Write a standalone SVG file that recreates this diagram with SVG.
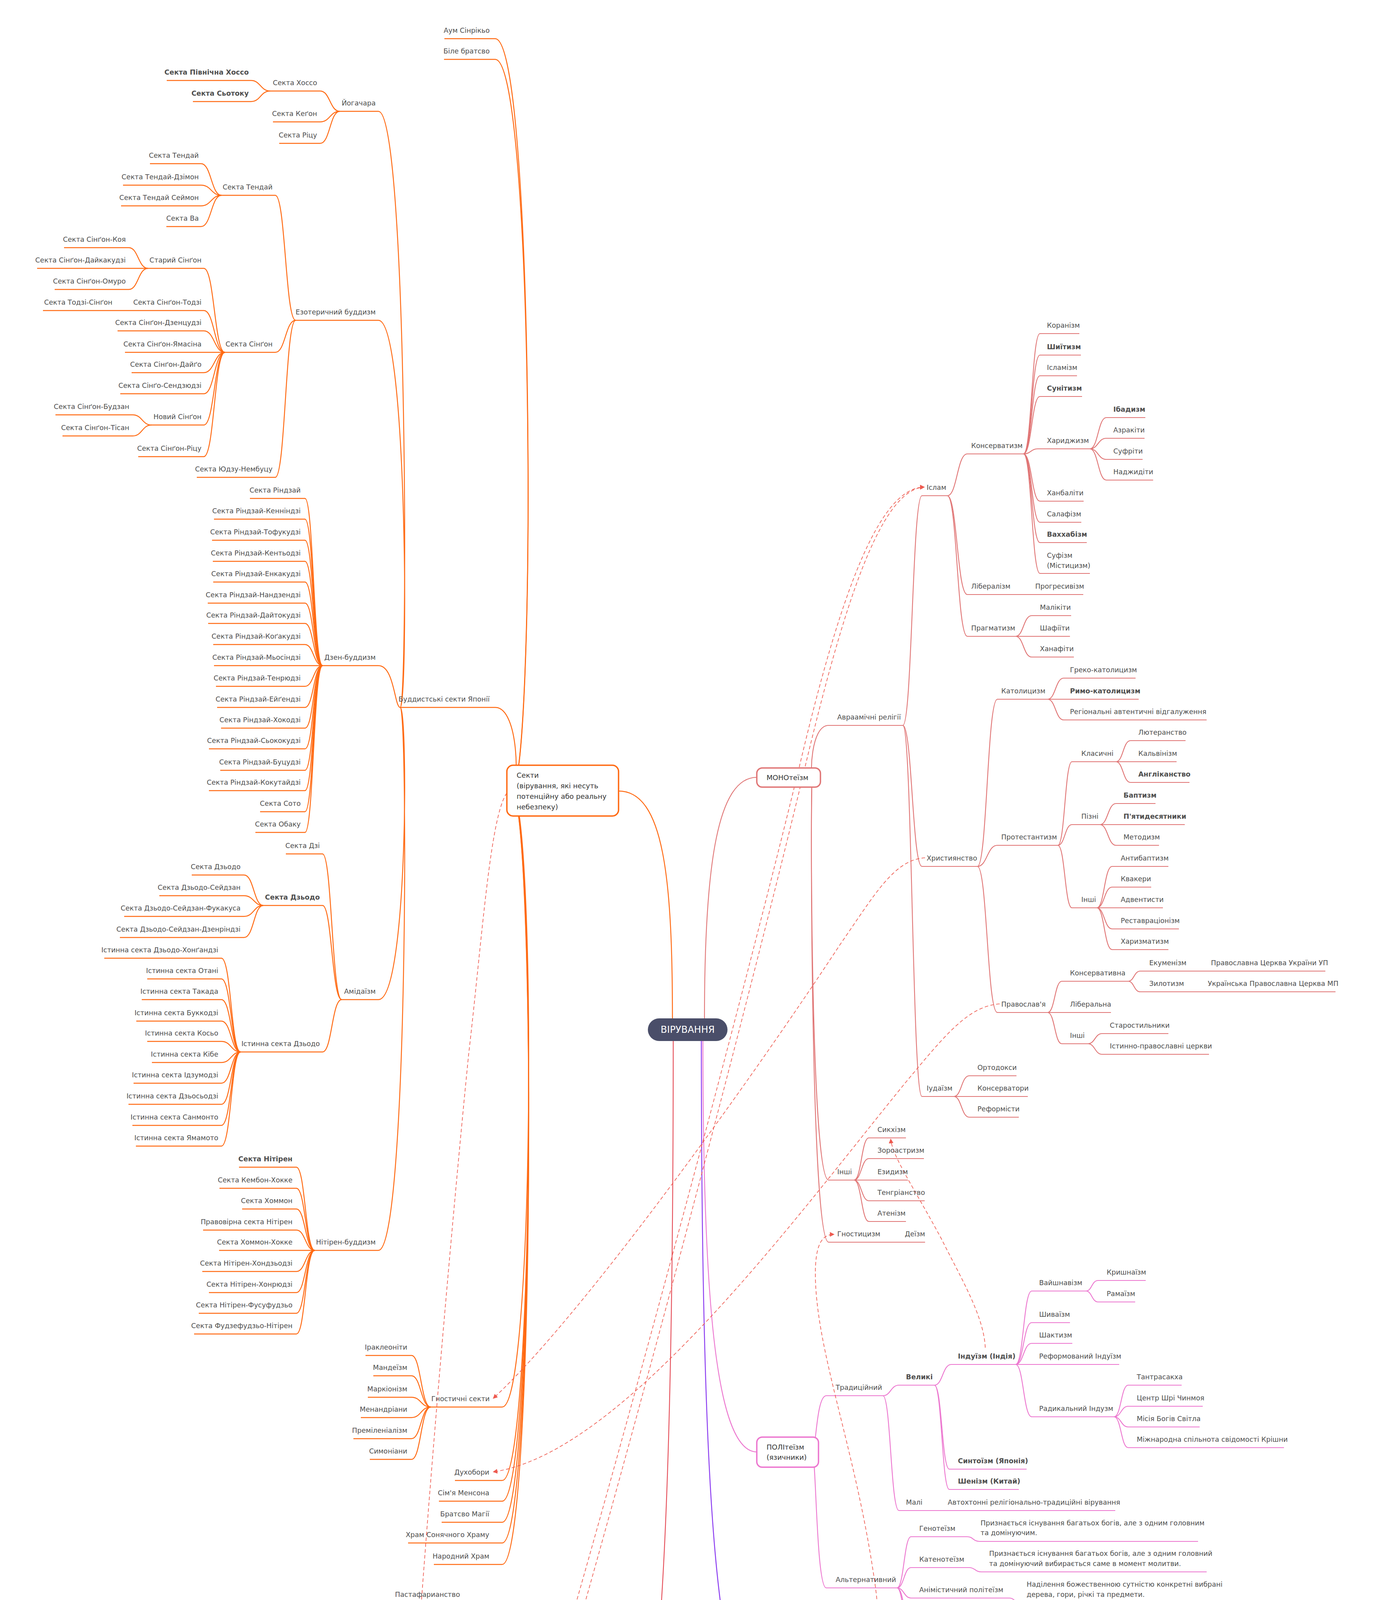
<svg xmlns="http://www.w3.org/2000/svg" width="3516" height="5271" viewBox="0 0 3516 5271">
<style>
text{font-family:"DejaVu Sans","Noto Sans",sans-serif;font-size:17.6px;fill:#4d4d4d}
.l{text-anchor:end}
.b{font-weight:bold}
.bx{font-size:18px;fill:#333}
path{fill:none}
.co{stroke:#ff6a13;stroke-width:2.4}
.cm{stroke:#e07575;stroke-width:2.2}
.cp{stroke:#ec76cf;stroke-width:2.2}
.cv{stroke:#8b3cf0;stroke-width:2.4}
.cr{stroke:#e44a55;stroke-width:2.2}
.dl{stroke:#ee5a4f;stroke-width:1.7;stroke-dasharray:9 6;marker-end:url(#ar)}
.box{fill:#fff;stroke-width:3.5}
</style>
<defs>
<marker id="ar" viewBox="0 0 10 10" refX="9" refY="5" markerWidth="12" markerHeight="12" markerUnits="userSpaceOnUse" orient="auto-start-reverse"><path d="M0,0L10,5L0,10Z" style="fill:#ee5a4f;stroke:none"/></marker>
</defs>
<rect width="3516" height="5271" fill="#fff"/>
<g id="connectors">
<path class="co" stroke-width="5" d="M1722,2607C1722,2250 1700,2025 1584,2025"/>
<path class="cm" stroke-width="5" d="M1804,2607C1804,2200 1840,1990 1938,1990"/>
<path class="cp" stroke-width="5" d="M1800,2665C1800,3300 1830,3717 1938,3717"/>
<path class="cv" stroke-width="5" d="M1796,2665C1796,3600 1820,4363 1938,4363"/>
<path class="cr" stroke-width="5" d="M1724,2665C1724,3700 1700,4637 1584,4637"/>
<g class="co">
<path d="M1138,99H1268C1372,99 1372,2024 1310,2024"/>
<path d="M1137,152H1268C1372,152 1372,2024 1310,2024"/>
<path d="M1025,1811H1268C1330,1811 1330,2024 1310,2024"/>
<path d="M1103,3602H1286C1372,3602 1372,2024 1310,2024"/>
<path d="M1165,3790H1286C1372,3790 1372,2024 1310,2024"/>
<path d="M1124,3843H1286C1372,3843 1372,2024 1310,2024"/>
<path d="M1131,3897H1286C1372,3897 1372,2024 1310,2024"/>
<path d="M1045,3950H1286C1372,3950 1372,2024 1310,2024"/>
<path d="M1111,4005H1286C1372,4005 1372,2024 1310,2024"/>
<path d="M870,285H969C1045,285 1045,1811 1025,1811"/>
<path d="M757,820H969C1045,820 1045,1811 1025,1811"/>
<path d="M826,1704H969C1010,1704 1010,1811 1025,1811"/>
<path d="M875,2559H969C1045,2559 1045,1811 1025,1811"/>
<path d="M806,3201H969C1045,3201 1045,1811 1025,1811"/>
<path d="M692,233H820C845,233 845,285 870,285"/>
<path d="M699,312H820C845,312 845,285 870,285"/>
<path d="M715,367H820C845,367 845,285 870,285"/>
<path d="M427,206H643C667,206 667,233 692,233"/>
<path d="M494,260H643C667,260 667,233 692,233"/>
<path d="M567,500H705C731,500 731,820 757,820"/>
<path d="M576,902H705C731,902 731,820 757,820"/>
<path d="M504,1222H705C731,1222 731,820 757,820"/>
<path d="M384,419H515C541,419 541,500 567,500"/>
<path d="M315,474H515C541,474 541,500 567,500"/>
<path d="M310,527H515C541,527 541,500 567,500"/>
<path d="M426,580H515C541,580 541,500 567,500"/>
<path d="M379,687H522C549,687 549,902 576,902"/>
<path d="M110,795H522C549,795 549,902 576,902"/>
<path d="M301,847H522C549,847 549,902 576,902"/>
<path d="M320,902H576"/>
<path d="M337,954H522C549,954 549,902 576,902"/>
<path d="M308,1008H522C549,1008 549,902 576,902"/>
<path d="M388,1088H522C549,1088 549,902 576,902"/>
<path d="M354,1169H522C549,1169 549,902 576,902"/>
<path d="M164,634H330C354,634 354,687 379,687"/>
<path d="M95,687H379"/>
<path d="M140,741H330C354,741 354,687 379,687"/>
<path d="M142,1062H340C364,1062 364,1088 388,1088"/>
<path d="M160,1116H340C364,1116 364,1088 388,1088"/>
<path d="M640,1276H781C803,1276 803,1704 826,1704"/>
<path d="M548,1329H781C803,1329 803,1704 826,1704"/>
<path d="M543,1383H781C803,1383 803,1704 826,1704"/>
<path d="M545,1437H781C803,1437 803,1704 826,1704"/>
<path d="M546,1490H781C803,1490 803,1704 826,1704"/>
<path d="M532,1544H781C803,1544 803,1704 826,1704"/>
<path d="M533,1596H781C803,1596 803,1704 826,1704"/>
<path d="M546,1650H781C803,1650 803,1704 826,1704"/>
<path d="M548,1704H826"/>
<path d="M553,1757H781C803,1757 803,1704 826,1704"/>
<path d="M556,1811H781C803,1811 803,1704 826,1704"/>
<path d="M566,1864H781C803,1864 803,1704 826,1704"/>
<path d="M535,1917H781C803,1917 803,1704 826,1704"/>
<path d="M564,1972H781C803,1972 803,1704 826,1704"/>
<path d="M535,2024H781C803,2024 803,1704 826,1704"/>
<path d="M666,2078H781C803,2078 803,1704 826,1704"/>
<path d="M654,2131H781C803,2131 803,1704 826,1704"/>
<path d="M732,2186H826C850,2186 850,2559 875,2559"/>
<path d="M674,2318H826C850,2318 850,2559 875,2559"/>
<path d="M616,2693H826C850,2693 850,2559 875,2559"/>
<path d="M491,2240H625C650,2240 650,2318 674,2318"/>
<path d="M408,2293H625C650,2293 650,2318 674,2318"/>
<path d="M318,2346H625C650,2346 650,2318 674,2318"/>
<path d="M307,2400H625C650,2400 650,2318 674,2318"/>
<path d="M267,2453H567C592,2453 592,2693 616,2693"/>
<path d="M377,2506H567C592,2506 592,2693 616,2693"/>
<path d="M363,2559H567C592,2559 592,2693 616,2693"/>
<path d="M349,2614H567C592,2614 592,2693 616,2693"/>
<path d="M377,2666H567C592,2666 592,2693 616,2693"/>
<path d="M389,2720H567C592,2720 592,2693 616,2693"/>
<path d="M342,2773H567C592,2773 592,2693 616,2693"/>
<path d="M329,2827H567C592,2827 592,2693 616,2693"/>
<path d="M339,2881H567C592,2881 592,2693 616,2693"/>
<path d="M348,2934H567C592,2934 592,2693 616,2693"/>
<path d="M612,2988H759C782,2988 782,3201 806,3201"/>
<path d="M562,3042H759C782,3042 782,3201 806,3201"/>
<path d="M620,3095H759C782,3095 782,3201 806,3201"/>
<path d="M520,3149H759C782,3149 782,3201 806,3201"/>
<path d="M561,3201H806"/>
<path d="M518,3255H759C782,3255 782,3201 806,3201"/>
<path d="M535,3309H759C782,3309 782,3201 806,3201"/>
<path d="M509,3362H759C782,3362 782,3201 806,3201"/>
<path d="M497,3415H759C782,3415 782,3201 806,3201"/>
<path d="M936,3470H1054C1078,3470 1078,3602 1103,3602"/>
<path d="M956,3522H1054C1078,3522 1078,3602 1103,3602"/>
<path d="M942,3577H1054C1078,3577 1078,3602 1103,3602"/>
<path d="M924,3629H1054C1078,3629 1078,3602 1103,3602"/>
<path d="M905,3683H1054C1078,3683 1078,3602 1103,3602"/>
<path d="M947,3736H1054C1078,3736 1078,3602 1103,3602"/>
</g>
<g class="cr">
<path d="M1237,4210H1359C1405,4210 1405,4637 1410,4637"/>
<path d="M1240,4585H1366C1405,4585 1405,4637 1410,4637"/>
<path d="M1237,5039H1359C1405,5039 1405,4637 1410,4637"/>
<path d="M1016,4103H1195C1216,4103 1216,4210 1237,4210"/>
<path d="M844,4156H1195C1216,4156 1216,4210 1237,4210"/>
<path d="M981,4210H1237"/>
<path d="M1098,4263H1195C1216,4263 1216,4210 1237,4210"/>
<path d="M1046,4316H1195C1216,4316 1216,4210 1237,4210"/>
<path d="M1088,4370H1195C1218,4370 1218,4585 1240,4585"/>
<path d="M847,4424H1195C1218,4424 1218,4585 1240,4585"/>
<path d="M1002,4478H1195C1218,4478 1218,4585 1240,4585"/>
<path d="M969,4531H1195C1218,4531 1218,4585 1240,4585"/>
<path d="M1096,4585H1240"/>
<path d="M1002,4638H1195C1218,4638 1218,4585 1240,4585"/>
<path d="M974,4691H1195C1218,4691 1218,4585 1240,4585"/>
<path d="M1073,4745H1195C1218,4745 1218,4585 1240,4585"/>
<path d="M799,4798H1195C1218,4798 1218,4585 1240,4585"/>
<path d="M1065,4852H1195C1216,4852 1216,5039 1237,5039"/>
<path d="M1056,4905H1195C1216,4905 1216,5039 1237,5039"/>
<path d="M1049,4959H1195C1216,4959 1216,5039 1237,5039"/>
<path d="M1105,5012H1195C1216,5012 1216,5039 1237,5039"/>
<path d="M1040,5065H1195C1216,5065 1216,5039 1237,5039"/>
<path d="M1103,5119H1195C1216,5119 1216,5039 1237,5039"/>
<path d="M1042,5172H1195C1216,5172 1216,5039 1237,5039"/>
<path d="M1059,5225H1195C1216,5225 1216,5039 1237,5039"/>
</g>
<g class="cm">
<path d="M2312,1857H2122C2075,1857 2075,1990 2080,1990"/>
<path d="M2187,3021H2122C2075,3021 2075,1990 2080,1990"/>
<path d="M2369,3180H2122C2075,3180 2075,1990 2080,1990"/>
<path d="M2426,1269H2361C2336,1269 2336,1857 2312,1857"/>
<path d="M2503,2218H2361C2336,2218 2336,1857 2312,1857"/>
<path d="M2443,2807H2361C2336,2807 2336,1857 2312,1857"/>
<path d="M2621,1162H2477C2451,1162 2451,1269 2426,1269"/>
<path d="M2774,1522H2477C2451,1522 2451,1269 2426,1269"/>
<path d="M2601,1629H2477C2451,1629 2451,1269 2426,1269"/>
<path d="M2764,854H2663C2642,854 2642,1162 2621,1162"/>
<path d="M2768,909H2663C2642,909 2642,1162 2621,1162"/>
<path d="M2758,962H2663C2642,962 2642,1162 2621,1162"/>
<path d="M2771,1015H2663C2642,1015 2642,1162 2621,1162"/>
<path d="M2791,1149H2657C2640,1149 2640,1162 2621,1162"/>
<path d="M2775,1283H2663C2642,1283 2642,1162 2621,1162"/>
<path d="M2769,1337H2663C2642,1337 2642,1162 2621,1162"/>
<path d="M2783,1389H2663C2642,1389 2642,1162 2621,1162"/>
<path d="M2791,1468H2663C2642,1468 2642,1162 2621,1162"/>
<path d="M2933,1069H2833C2812,1069 2812,1149 2791,1149"/>
<path d="M2931,1122H2833C2812,1122 2812,1149 2791,1149"/>
<path d="M2926,1176H2833C2812,1176 2812,1149 2791,1149"/>
<path d="M2953,1229H2833C2812,1229 2812,1149 2791,1149"/>
<path d="M2743,1576H2642C2621,1576 2621,1629 2601,1629"/>
<path d="M2740,1629H2601"/>
<path d="M2750,1682H2642C2621,1682 2621,1629 2601,1629"/>
<path d="M2683,1790H2554C2528,1790 2528,2218 2503,2218"/>
<path d="M2709,2164H2554C2528,2164 2528,2218 2503,2218"/>
<path d="M2683,2592H2554C2528,2592 2528,2218 2503,2218"/>
<path d="M2908,1736H2724C2703,1736 2703,1790 2683,1790"/>
<path d="M2916,1790H2683"/>
<path d="M3090,1843H2724C2703,1843 2703,1790 2683,1790"/>
<path d="M2858,1950H2745C2727,1950 2727,2164 2709,2164"/>
<path d="M2817,2111H2745C2727,2111 2727,2164 2709,2164"/>
<path d="M2809,2324H2745C2727,2324 2727,2164 2709,2164"/>
<path d="M3036,1896H2895C2876,1896 2876,1950 2858,1950"/>
<path d="M3013,1950H2858"/>
<path d="M3046,2003H2895C2876,2003 2876,1950 2858,1950"/>
<path d="M2959,2057H2858C2837,2057 2837,2111 2817,2111"/>
<path d="M3034,2111H2817"/>
<path d="M2968,2164H2858C2837,2164 2837,2111 2817,2111"/>
<path d="M2992,2218H2848C2828,2218 2828,2324 2809,2324"/>
<path d="M2948,2271H2848C2828,2271 2828,2324 2809,2324"/>
<path d="M2978,2324H2809"/>
<path d="M3019,2378H2848C2828,2378 2828,2324 2809,2324"/>
<path d="M2992,2431H2848C2828,2431 2828,2324 2809,2324"/>
<path d="M2889,2512H2719C2701,2512 2701,2592 2683,2592"/>
<path d="M2845,2592H2683"/>
<path d="M2786,2672H2719C2701,2672 2701,2592 2683,2592"/>
<path d="M3394,2486H2920C2904,2486 2904,2512 2889,2512"/>
<path d="M3420,2539H2920C2904,2539 2904,2512 2889,2512"/>
<path d="M2992,2646H2822C2804,2646 2804,2672 2786,2672"/>
<path d="M3096,2699H2822C2804,2699 2804,2672 2786,2672"/>
<path d="M2603,2754H2482C2462,2754 2462,2807 2443,2807"/>
<path d="M2632,2807H2443"/>
<path d="M2609,2860H2482C2462,2860 2462,2807 2443,2807"/>
<path d="M2320,2913H2225C2206,2913 2206,3021 2187,3021"/>
<path d="M2366,2966H2225C2206,2966 2206,3021 2187,3021"/>
<path d="M2325,3021H2187"/>
<path d="M2368,3074H2225C2206,3074 2206,3021 2187,3021"/>
<path d="M2320,3127H2225C2206,3127 2206,3021 2187,3021"/>
</g>
<g class="cp">
<path d="M2261,3573H2116C2090,3573 2090,3717 2080,3717"/>
<path d="M2297,4065H2116C2090,4065 2090,3717 2080,3717"/>
<path d="M2393,3546H2302C2281,3546 2281,3573 2261,3573"/>
<path d="M2856,3867H2302C2281,3867 2281,3573 2261,3573"/>
<path d="M2601,3493H2436C2414,3493 2414,3546 2393,3546"/>
<path d="M2629,3761H2431C2412,3761 2412,3546 2393,3546"/>
<path d="M2609,3813H2431C2412,3813 2412,3546 2393,3546"/>
<path d="M2781,3305H2642C2621,3305 2621,3493 2601,3493"/>
<path d="M2740,3386H2642C2621,3386 2621,3493 2601,3493"/>
<path d="M2746,3439H2642C2621,3439 2621,3493 2601,3493"/>
<path d="M2866,3493H2601"/>
<path d="M2853,3627H2642C2621,3627 2621,3493 2601,3493"/>
<path d="M2934,3278H2812C2796,3278 2796,3305 2781,3305"/>
<path d="M2907,3333H2812C2796,3333 2796,3305 2781,3305"/>
<path d="M3026,3546H2889C2871,3546 2871,3627 2853,3627"/>
<path d="M3080,3600H2889C2871,3600 2871,3627 2853,3627"/>
<path d="M3072,3653H2889C2871,3653 2871,3627 2853,3627"/>
<path d="M3288,3706H2889C2871,3706 2871,3627 2853,3627"/>
<path d="M3068,3946H2508C2492,3946 2492,3934 2477,3934H2333C2315,3934 2315,4065 2297,4065"/>
<path d="M3090,4024H2513C2497,4024 2497,4013 2482,4013H2333C2315,4013 2315,4065 2297,4065"/>
<path d="M3186,4103H2611C2598,4103 2598,4091 2585,4091H2333C2315,4091 2315,4065 2297,4065"/>
<path d="M2436,4158H2333C2315,4158 2315,4065 2297,4065"/>
<path d="M2508,4211H2333C2315,4211 2315,4065 2297,4065"/>
</g>
<g class="cv">
<path d="M2487,4307H2091C2075,4307 2075,4363 2060,4363"/>
<path d="M2230,4363H2060"/>
<path d="M2174,4417H2091C2075,4417 2075,4363 2060,4363"/>
<path d="M2206,4471H2091C2075,4471 2075,4363 2060,4363"/>
</g>
<g id="links">
<path class="dl" d="M1298,2030C1255,2090 1235,2400 1200,2700C1150,3200 1045,4400 1033,4900C1028,5110 1035,5204 1053,5204"/>
<path class="dl" d="M2369,2196C2290,2200 2240,2290 2150,2420C1900,2800 1480,3380 1263,3580"/>
<path class="dl" d="M2560,2570C2480,2575 2420,2650 2320,2770C2050,3100 1600,3720 1263,3768"/>
<path class="dl" d="M1186,4829C1240,4829 1285,4740 1320,4630C1500,4050 1880,2650 2050,1950C2150,1530 2250,1247 2367,1247"/>
<path class="dl" d="M1186,4882C1245,4882 1300,4780 1335,4660C1515,4080 1890,2680 2060,1970C2160,1550 2255,1252 2367,1247"/>
<path class="dl" d="M2523,3450C2520,3370 2460,3270 2410,3170C2340,3040 2285,2960 2281,2916"/>
<path class="dl" style="marker-start:url(#ar)" d="M2202,4288C2255,4270 2255,4150 2240,4050C2190,3700 2085,3450 2088,3250C2090,3185 2105,3160 2136,3160"/>
<path class="dl" d="M2352,4136C2290,4136 2262,4150 2265,4200C2268,4255 2290,4280 2202,4288"/>
<path class="dl" d="M2352,4190C2300,4190 2282,4205 2284,4240C2286,4275 2260,4288 2202,4288"/>
<path class="dl" d="M2004,4339C2006,4312 1960,4315 1900,4333C1720,4390 1450,4545 1340,4594C1310,4606 1297,4604 1297,4585"/>
<path class="dl" d="M1997,4333C1900,4380 1700,4600 1560,4790C1440,4950 1330,5060 1296,5055C1296,5050 1296,5045 1296,5038"/>
</g>
</g>
<g id="root"><rect x="1659" y="2607" width="204" height="58" rx="29" fill="#4a4e69"/><text x="1761" y="2644" text-anchor="middle" style="font-size:24px;fill:#fff">ВІРУВАННЯ</text></g>
<g id="sekty"><rect class="box" x="1298" y="1959" width="286" height="130" rx="16" stroke="#ff6a13"/><text class="bx" x="1323" y="1991">Секти</text><text class="bx" x="1323" y="2018">(вірування, які несуть</text><text class="bx" x="1323" y="2045">потенційну або реальну</text><text class="bx" x="1323" y="2072">небезпеку)</text></g>
<g id="mono"><rect class="box" x="1938" y="1966" width="163" height="49" rx="14" stroke="#e07575"/><text class="bx" x="1963" y="1997">МОНОтеїзм</text></g>
<g id="poli"><rect class="box" x="1938" y="3679" width="158" height="77" rx="14" stroke="#ec76cf"/><text class="bx" x="1963" y="3711">ПОЛІтеїзм</text><text class="bx" x="1963" y="3737">(язичники)</text></g>
<g id="ne"><rect class="box" x="1938" y="4339" width="131" height="49" rx="14" stroke="#8b3cf0"/><text class="bx" x="1963" y="4370">НЕтеїзм</text></g>
<g id="alt"><rect class="box" x="1388" y="4613" width="196" height="49" rx="14" stroke="#e44a55"/><text class="bx" x="1486" y="4644" text-anchor="middle">Альтернативні</text></g>
<g id="sects-nodes">
<g id="s1"><text class="l" x="1254" y="84">Аум Сінрікьо</text></g>
<g id="s2"><text class="l" x="1254" y="137">Біле братсво</text></g>
<g id="s3"><text class="l" x="1254" y="1796">Буддистські секти Японії</text></g>
<g id="s4"><text class="l" x="1254" y="3587">Гностичні секти</text></g>
<g id="s5"><text class="l" x="1253" y="3775">Духобори</text></g>
<g id="s6"><text class="l" x="1253" y="3828">Сім'я Менсона</text></g>
<g id="s7"><text class="l" x="1253" y="3882">Братсво Магії</text></g>
<g id="s8"><text class="l" x="1253" y="3935">Храм Сонячного Храму</text></g>
<g id="s9"><text class="l" x="1253" y="3990">Народний Храм</text></g>
<g id="b1"><text class="l" x="962" y="270">Йогачара</text></g>
<g id="b2"><text class="l" x="962" y="805">Езотеричний буддизм</text></g>
<g id="b3"><text class="l" x="962" y="1689">Дзен-буддизм</text></g>
<g id="b4"><text class="l" x="962" y="2544">Амідаїзм</text></g>
<g id="b5"><text class="l" x="962" y="3186">Нітірен-буддизм</text></g>
<g id="y1"><text class="l" x="812" y="218">Секта Хоссо</text></g>
<g id="y2"><text class="l" x="812" y="297">Секта Кеґон</text></g>
<g id="y3"><text class="l" x="812" y="352">Секта Ріцу</text></g>
<g id="y4"><text class="l b" x="637" y="191">Секта Північна Хоссо</text></g>
<g id="y5"><text class="l b" x="637" y="245">Секта Сьотоку</text></g>
<g id="e1"><text class="l" x="698" y="485">Секта Тендай</text></g>
<g id="e2"><text class="l" x="698" y="887">Секта Сінґон</text></g>
<g id="e3"><text class="l" x="698" y="1207">Секта Юдзу-Нембуцу</text></g>
<g id="t1"><text class="l" x="509" y="404">Секта Тендай</text></g>
<g id="t2"><text class="l" x="509" y="459">Секта Тендай-Дзімон</text></g>
<g id="t3"><text class="l" x="509" y="512">Секта Тендай Сеймон</text></g>
<g id="t4"><text class="l" x="509" y="565">Секта Ва</text></g>
<g id="g1"><text class="l" x="516" y="672">Старий Сінґон</text></g>
<g id="g2"><text class="l" x="516" y="780">Секта Сінґон-Тодзі</text></g>
<g id="g2a"><text x="113" y="780">Секта Тодзі-Сінґон</text></g>
<g id="g3"><text class="l" x="516" y="832">Секта Сінґон-Дзенцудзі</text></g>
<g id="g4"><text class="l" x="516" y="887">Секта Сінґон-Ямасіна</text></g>
<g id="g5"><text class="l" x="516" y="939">Секта Сінґон-Дайґо</text></g>
<g id="g6"><text class="l" x="516" y="993">Секта Сінґо-Сендзюдзі</text></g>
<g id="g7"><text class="l" x="516" y="1073">Новий Сінґон</text></g>
<g id="g8"><text class="l" x="516" y="1154">Секта Сінґон-Ріцу</text></g>
<g id="g9"><text class="l" x="322" y="619">Секта Сінґон-Коя</text></g>
<g id="g10"><text class="l" x="322" y="672">Секта Сінґон-Дайкакудзі</text></g>
<g id="g11"><text class="l" x="322" y="726">Секта Сінґон-Омуро</text></g>
<g id="g12"><text class="l" x="331" y="1047">Секта Сінґон-Будзан</text></g>
<g id="g13"><text class="l" x="331" y="1101">Секта Сінґон-Тісан</text></g>
<g id="z1"><text class="l" x="770" y="1261">Секта Ріндзай</text></g>
<g id="z2"><text class="l" x="770" y="1314">Секта Ріндзай-Кенніндзі</text></g>
<g id="z3"><text class="l" x="770" y="1368">Секта Ріндзай-Тофукудзі</text></g>
<g id="z4"><text class="l" x="770" y="1422">Секта Ріндзай-Кентьодзі</text></g>
<g id="z5"><text class="l" x="770" y="1475">Секта Ріндзай-Енкакудзі</text></g>
<g id="z6"><text class="l" x="770" y="1529">Секта Ріндзай-Нандзендзі</text></g>
<g id="z7"><text class="l" x="770" y="1581">Секта Ріндзай-Дайтокудзі</text></g>
<g id="z8"><text class="l" x="770" y="1635">Секта Ріндзай-Коґакудзі</text></g>
<g id="z9"><text class="l" x="770" y="1689">Секта Ріндзай-Мьосіндзі</text></g>
<g id="z10"><text class="l" x="770" y="1742">Секта Ріндзай-Тенрюдзі</text></g>
<g id="z11"><text class="l" x="770" y="1796">Секта Ріндзай-Ейґендзі</text></g>
<g id="z12"><text class="l" x="770" y="1849">Секта Ріндзай-Хокодзі</text></g>
<g id="z13"><text class="l" x="770" y="1902">Секта Ріндзай-Сьококудзі</text></g>
<g id="z14"><text class="l" x="770" y="1957">Секта Ріндзай-Буцудзі</text></g>
<g id="z15"><text class="l" x="770" y="2009">Секта Ріндзай-Кокутайдзі</text></g>
<g id="z16"><text class="l" x="770" y="2063">Секта Сото</text></g>
<g id="z17"><text class="l" x="770" y="2116">Секта Обаку</text></g>
<g id="a1"><text class="l" x="819" y="2171">Секта Дзі</text></g>
<g id="a2"><text class="l b" x="819" y="2303">Секта Дзьодо</text></g>
<g id="a3"><text class="l" x="819" y="2678">Істинна секта Дзьодо</text></g>
<g id="a4"><text class="l" x="616" y="2225">Секта Дзьодо</text></g>
<g id="a5"><text class="l" x="616" y="2278">Секта Дзьодо-Сейдзан</text></g>
<g id="a6"><text class="l" x="616" y="2331">Секта Дзьодо-Сейдзан-Фукакуса</text></g>
<g id="a7"><text class="l" x="616" y="2385">Секта Дзьодо-Сейдзан-Дзенріндзі</text></g>
<g id="i1"><text class="l" x="559" y="2438">Істинна секта Дзьодо-Хонґандзі</text></g>
<g id="i2"><text class="l" x="559" y="2491">Істинна секта Отані</text></g>
<g id="i3"><text class="l" x="559" y="2544">Істинна секта Такада</text></g>
<g id="i4"><text class="l" x="559" y="2599">Істинна секта Буккодзі</text></g>
<g id="i5"><text class="l" x="559" y="2651">Істинна секта Косьо</text></g>
<g id="i6"><text class="l" x="559" y="2705">Істинна секта Кібе</text></g>
<g id="i7"><text class="l" x="559" y="2758">Істинна секта Ідзумодзі</text></g>
<g id="i8"><text class="l" x="559" y="2812">Істинна секта Дзьосьодзі</text></g>
<g id="i9"><text class="l" x="559" y="2866">Істинна секта Санмонто</text></g>
<g id="i10"><text class="l" x="559" y="2919">Істинна секта Ямамото</text></g>
<g id="n1"><text class="l b" x="749" y="2973">Секта Нітірен</text></g>
<g id="n2"><text class="l" x="749" y="3027">Секта Кембон-Хокке</text></g>
<g id="n3"><text class="l" x="749" y="3080">Секта Хоммон</text></g>
<g id="n4"><text class="l" x="749" y="3134">Правовірна секта Нітірен</text></g>
<g id="n5"><text class="l" x="749" y="3186">Секта Хоммон-Хокке</text></g>
<g id="n6"><text class="l" x="749" y="3240">Секта Нітірен-Хондзьодзі</text></g>
<g id="n7"><text class="l" x="749" y="3294">Секта Нітірен-Хонрюдзі</text></g>
<g id="n8"><text class="l" x="749" y="3347">Секта Нітірен-Фусуфудзьо</text></g>
<g id="n9"><text class="l" x="749" y="3400">Секта Фудзефудзьо-Нітірен</text></g>
<g id="gn1"><text class="l" x="1043" y="3455">Іраклеоніти</text></g>
<g id="gn2"><text class="l" x="1043" y="3507">Мандеїзм</text></g>
<g id="gn3"><text class="l" x="1043" y="3562">Маркіонізм</text></g>
<g id="gn4"><text class="l" x="1043" y="3614">Менандріани</text></g>
<g id="gn5"><text class="l" x="1043" y="3668">Преміленіалізм</text></g>
<g id="gn6"><text class="l" x="1043" y="3721">Симоніани</text></g>
</g>
<g id="alt-nodes">
<g id="al1"><text class="l" x="1347" y="4195">Жартівливі</text></g>
<g id="al2"><text class="l" x="1347" y="4570">Віртуальні</text></g>
<g id="al3"><text class="l" x="1347" y="5024">УФО-релігії</text></g>
<g id="j1"><text class="l" x="1178" y="4088">Пастафарианство</text></g>
<g id="j2"><text class="l" x="1178" y="4141">НРЄ (Невидимий Рожевий Єдиноріг)</text></g>
<g id="j3"><text class="l" x="1178" y="4195">Церква НедоМудреця</text></g>
<g id="j4"><text class="l" x="1178" y="4248">Дудеизм</text></g>
<g id="j5"><text class="l" x="1178" y="4301">Дискордіанізм</text></g>
<g id="v1"><text class="l" x="1184" y="4355">Джедаизм</text></g>
<g id="v2"><text class="l" x="1184" y="4409">МЦК (Місіонерська церква копімізму)</text></g>
<g id="v3"><text class="l" x="1184" y="4463">Блокчейн-вірування</text></g>
<g id="v4"><text class="l" x="1184" y="4516">Культ ШІ та алгоритмів</text></g>
<g id="v5"><text class="l" x="1184" y="4570">Спіралізм</text></g>
<g id="v6"><text class="l" x="1184" y="4623">Шляхи майбутнього</text></g>
<g id="v7"><text class="l" x="1184" y="4676">Кібер-пастафаріанство</text></g>
<g id="v8"><text class="l" x="1184" y="4730">Матриксизм</text></g>
<g id="v9"><text class="l" x="1184" y="4783">МГМ (Віртуальні громади у метавсесвітах)</text></g>
<g id="u1"><text class="l" x="1179" y="4837">Нація Ісламу</text></g>
<g id="u2"><text class="l" x="1179" y="4890">Ассару Аллах</text></g>
<g id="u3"><text class="l" x="1179" y="4944">Червона Зірка</text></g>
<g id="u4"><text class="l b" x="1179" y="4997">Раїлізм</text></g>
<g id="u5"><text class="l" x="1179" y="5050">Небесні ворота</text></g>
<g id="u6"><text class="l" x="1179" y="5104">Юнаріус</text></g>
<g id="u7"><text class="l" x="1179" y="5157">Всесвітні люди</text></g>
<g id="u8"><text class="l b" x="1179" y="5210">Саєнтологія</text></g>
</g>
<g id="mono-nodes">
<g id="m1"><text x="2144" y="1842">Авраамічні релігії</text></g>
<g id="m2"><text x="2144" y="3006">Інші</text></g>
<g id="m3"><text x="2144" y="3165">Гностицизм</text></g>
<g id="m3a"><text x="2317" y="3165">Деїзм</text></g>
<g id="m4"><text x="2373" y="1254">Іслам</text></g>
<g id="m5"><text x="2373" y="2203">Християнство</text></g>
<g id="m6"><text x="2373" y="2792">Іудаїзм</text></g>
<g id="is1"><text x="2487" y="1147">Консерватизм</text></g>
<g id="is2"><text x="2487" y="1507">Лібералізм</text></g>
<g id="is2a"><text x="2651" y="1507">Прогресивізм</text></g>
<g id="is3"><text x="2487" y="1614">Прагматизм</text></g>
<g id="k1"><text x="2681" y="839">Коранізм</text></g>
<g id="k2"><text class="b" x="2681" y="894">Шиїтизм</text></g>
<g id="k3"><text x="2681" y="947">Ісламізм</text></g>
<g id="k4"><text class="b" x="2681" y="1000">Сунітизм</text></g>
<g id="k5"><text x="2681" y="1134">Хариджизм</text></g>
<g id="k6"><text x="2681" y="1268">Ханбаліти</text></g>
<g id="k7"><text x="2681" y="1322">Салафізм</text></g>
<g id="k8"><text class="b" x="2681" y="1374">Ваххабізм</text></g>
<g id="k9"><text x="2681" y="1428">Суфізм</text><text x="2681" y="1454">(Містицизм)</text></g>
<g id="h1"><text class="b" x="2851" y="1054">Ібадизм</text></g>
<g id="h2"><text x="2851" y="1107">Азракіти</text></g>
<g id="h3"><text x="2851" y="1161">Суфріти</text></g>
<g id="h4"><text x="2851" y="1214">Наджидіти</text></g>
<g id="p1"><text x="2663" y="1561">Малікіти</text></g>
<g id="p2"><text x="2663" y="1614">Шафіїти</text></g>
<g id="p3"><text x="2663" y="1667">Ханафіти</text></g>
<g id="c1"><text x="2564" y="1775">Католицизм</text></g>
<g id="c2"><text x="2564" y="2149">Протестантизм</text></g>
<g id="c3"><text x="2564" y="2577">Православ'я</text></g>
<g id="ca1"><text x="2740" y="1721">Греко-католицизм</text></g>
<g id="ca2"><text class="b" x="2740" y="1775">Римо-католицизм</text></g>
<g id="ca3"><text x="2740" y="1828">Регіональні автентичні відгалуження</text></g>
<g id="pr1"><text x="2769" y="1935">Класичні</text></g>
<g id="pr2"><text x="2769" y="2096">Пізні</text></g>
<g id="pr3"><text x="2769" y="2309">Інші</text></g>
<g id="pr4"><text x="2915" y="1881">Лютеранство</text></g>
<g id="pr5"><text x="2915" y="1935">Кальвінізм</text></g>
<g id="pr6"><text class="b" x="2915" y="1988">Англіканство</text></g>
<g id="pr7"><text class="b" x="2877" y="2042">Баптизм</text></g>
<g id="pr8"><text class="b" x="2877" y="2096">П'ятидесятники</text></g>
<g id="pr9"><text x="2877" y="2149">Методизм</text></g>
<g id="pr10"><text x="2870" y="2203">Антибаптизм</text></g>
<g id="pr11"><text x="2870" y="2256">Квакери</text></g>
<g id="pr12"><text x="2870" y="2309">Адвентисти</text></g>
<g id="pr13"><text x="2870" y="2363">Реставраціонізм</text></g>
<g id="pr14"><text x="2870" y="2416">Харизматизм</text></g>
<g id="o1"><text x="2740" y="2497">Консервативна</text></g>
<g id="o2"><text x="2740" y="2577">Ліберальна</text></g>
<g id="o3"><text x="2740" y="2657">Інші</text></g>
<g id="o4"><text x="2943" y="2471">Екуменізм</text></g>
<g id="o4a"><text x="3101" y="2471">Православна Церква України УП</text></g>
<g id="o5"><text x="2943" y="2524">Зилотизм</text></g>
<g id="o5a"><text x="3093" y="2524">Українська Православна Церква МП</text></g>
<g id="o6"><text x="2842" y="2631">Старостильники</text></g>
<g id="o7"><text x="2842" y="2684">Істинно-православні церкви</text></g>
<g id="iu1"><text x="2503" y="2739">Ортодокси</text></g>
<g id="iu2"><text x="2503" y="2792">Консерватори</text></g>
<g id="iu3"><text x="2503" y="2845">Реформісти</text></g>
<g id="in1"><text x="2247" y="2898">Сикхізм</text></g>
<g id="in2"><text x="2247" y="2951">Зороастризм</text></g>
<g id="in3"><text x="2247" y="3006">Езидизм</text></g>
<g id="in4"><text x="2247" y="3059">Тенгріанство</text></g>
<g id="in5"><text x="2247" y="3112">Атенізм</text></g>
</g>
<g id="poli-nodes">
<g id="pl1"><text x="2140" y="3558">Традиційний</text></g>
<g id="pl2"><text x="2140" y="4050">Альтернативний</text></g>
<g id="pl3"><text class="b" x="2320" y="3531">Великі</text></g>
<g id="pl4"><text x="2320" y="3852">Малі</text></g>
<g id="pl4a"><text x="2427" y="3852">Автохтонні релігіонально-традиційні вірування</text></g>
<g id="pl5"><text class="b" x="2453" y="3478">Індуїзм (Індія)</text></g>
<g id="pl6"><text class="b" x="2453" y="3746">Синтоїзм (Японія)</text></g>
<g id="pl7"><text class="b" x="2453" y="3798">Шенізм (Китай)</text></g>
<g id="hd1"><text x="2661" y="3290">Вайшнавізм</text></g>
<g id="hd2"><text x="2661" y="3371">Шиваїзм</text></g>
<g id="hd3"><text x="2661" y="3424">Шактизм</text></g>
<g id="hd4"><text x="2661" y="3478">Реформований Індуїзм</text></g>
<g id="hd5"><text x="2661" y="3612">Радикальний Індузм</text></g>
<g id="hd6"><text x="2834" y="3263">Кришнаїзм</text></g>
<g id="hd7"><text x="2834" y="3318">Рамаїзм</text></g>
<g id="hd8"><text x="2911" y="3531">Тантрасакха</text></g>
<g id="hd9"><text x="2911" y="3585">Центр Шрі Чинмоя</text></g>
<g id="hd10"><text x="2911" y="3638">Місія Богів Світла</text></g>
<g id="hd11"><text x="2911" y="3691">Міжнародна спільнота свідомості Крішни</text></g>
<g id="at1"><text x="2354" y="3919">Генотеїзм</text><text x="2511" y="3905">Признається існування багатьох богів, але з одним головним</text><text x="2511" y="3930">та домінуючим.</text></g>
<g id="at2"><text x="2354" y="3998">Катенотеїзм</text><text x="2533" y="3983">Признається існування багатьох богів, але з одним головний</text><text x="2533" y="4009">та домінуючий вибирається саме в момент молитви.</text></g>
<g id="at3"><text x="2354" y="4076">Анімістичний політеїзм</text><text x="2629" y="4062">Наділення божественною сутністю конкретні вибрані</text><text x="2629" y="4088">дерева, гори, річкі та предмети.</text></g>
<g id="at4"><text x="2354" y="4143">Буддизм</text></g>
<g id="at5"><text x="2354" y="4196">Даосизм (Китай)</text></g>
</g>
<g id="ne-nodes">
<g id="ne1"><text x="2112" y="4292">Пантеїзм</text></g>
<g id="ne1a"><text x="2259" y="4292">Конфуцианьство (Китай)</text></g>
<g id="ne2"><text x="2112" y="4348">Агностецизм</text></g>
<g id="ne3"><text x="2112" y="4402">Атеїзм</text></g>
<g id="ne4"><text x="2112" y="4456">Антитеїзм</text></g>
</g>
</svg>
